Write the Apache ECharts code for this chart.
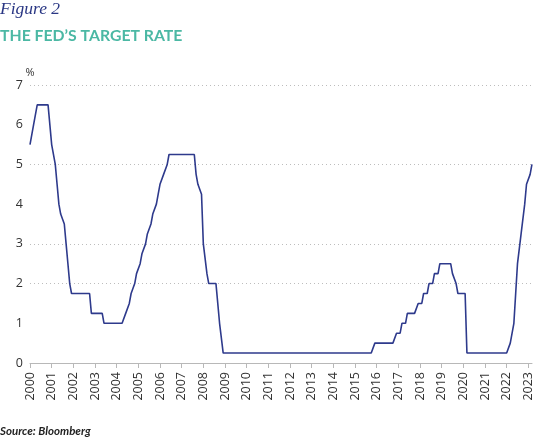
<!DOCTYPE html>
<html>
<head>
<meta charset="utf-8">
<script src="https://cdn.jsdelivr.net/npm/echarts@6/dist/echarts.min.js"></script>
<style>html,body{margin:0;padding:0;background:#fff}#c{width:538px;height:437px}</style>
</head>
<body>
<div id="c"></div>
<script>
// ---- data (monthly end-of-month Fed target rate, upper bound after 2008) ----
const startYear = 2000;
const yearTicks = [2000,2001,2002,2003,2004,2005,2006,2007,2008,2009,2010,2011,2012,2013,2014,2015,2016,2017,2018,2019,2020,2021,2022,2023];
const yTicks = [0,1,2,3,4,5,6,7];
const rates = [
  // 2000
  5.5,5.75,6,6,6.5,6.5,6.5,6.5,6.5,6.5,6.5,6.5,
  // 2001
  5.5,5.5,5,4.5,4,3.75,3.75,3.5,3,2.5,2,1.75,
  // 2002
  1.75,1.75,1.75,1.75,1.75,1.75,1.75,1.75,1.75,1.75,1.25,1.25,
  // 2003
  1.25,1.25,1.25,1.25,1.25,1,1,1,1,1,1,1,
  // 2004
  1,1,1,1,1,1.25,1.25,1.5,1.75,1.75,2,2.25,
  // 2005
  2.25,2.5,2.75,2.75,3,3.25,3.25,3.5,3.75,3.75,4,4.25,
  // 2006
  4.5,4.5,4.75,4.75,5,5.25,5.25,5.25,5.25,5.25,5.25,5.25,
  // 2007
  5.25,5.25,5.25,5.25,5.25,5.25,5.25,5.25,4.75,4.5,4.5,4.25,
  // 2008
  3,3,2.25,2,2,2,2,2,2,1,1,0.25,
  // 2009
  0.25,0.25,0.25,0.25,0.25,0.25,0.25,0.25,0.25,0.25,0.25,0.25,
  // 2010
  0.25,0.25,0.25,0.25,0.25,0.25,0.25,0.25,0.25,0.25,0.25,0.25,
  // 2011
  0.25,0.25,0.25,0.25,0.25,0.25,0.25,0.25,0.25,0.25,0.25,0.25,
  // 2012
  0.25,0.25,0.25,0.25,0.25,0.25,0.25,0.25,0.25,0.25,0.25,0.25,
  // 2013
  0.25,0.25,0.25,0.25,0.25,0.25,0.25,0.25,0.25,0.25,0.25,0.25,
  // 2014
  0.25,0.25,0.25,0.25,0.25,0.25,0.25,0.25,0.25,0.25,0.25,0.25,
  // 2015
  0.25,0.25,0.25,0.25,0.25,0.25,0.25,0.25,0.25,0.25,0.25,0.5,
  // 2016
  0.5,0.5,0.5,0.5,0.5,0.5,0.5,0.5,0.5,0.5,0.5,0.75,
  // 2017
  0.75,0.75,1,1,1,1.25,1.25,1.25,1.25,1.25,1.25,1.5,
  // 2018
  1.5,1.5,1.75,1.75,1.75,2,2,2,2.25,2.25,2.25,2.5,
  // 2019
  2.5,2.5,2.5,2.5,2.5,2.5,2.25,2.25,2,1.75,1.75,1.75,
  // 2020
  1.75,1.75,0.25,0.25,0.25,0.25,0.25,0.25,0.25,0.25,0.25,0.25,
  // 2021
  0.25,0.25,0.25,0.25,0.25,0.25,0.25,0.25,0.25,0.25,0.25,0.25,
  // 2022
  0.25,0.25,0.5,0.5,1,1.75,2.5,2.5,3.25,3.25,4,4.5,
  // 2023
  4.5,4.75,5
];

// month dates as decimal years
const seriesData = rates.map((r, i) => [startYear + i / 12, r]);

const chart = echarts.init(document.getElementById('c'), null, {renderer: 'canvas'});
chart.setOption({
  animation: false,
  backgroundColor: '#fff',
  title: [
    {text: 'Figure 2', left: 0, top: 0, padding: 0,
     textStyle: {fontFamily: 'Liberation Serif', fontStyle: 'italic', fontWeight: 'normal', fontSize: 17.5, color: '#2a3784'}},
    {text: 'THE FED\u2019S TARGET RATE', left: 0, top: 28, padding: 0,
     textStyle: {fontFamily: 'Lato', fontWeight: 'bold', fontSize: 15.8, color: '#4bb8a4'}}
  ],
  graphic: [
    {type: 'text', left: 0, top: 425,
     style: {text: 'Source: Bloomberg', font: 'italic bold 11.5px Lato', fill: '#222'}}
  ],
  grid: {left: 30, right: 6, top: 85, bottom: 74},
  xAxis: {
    type: 'value', min: 2000, max: 2023.17,
    axisLine: {show: true, lineStyle: {color: '#b8b8b8', width: 1}},
    axisTick: {show: true, customValues: yearTicks, length: 5, lineStyle: {color: '#b8b8b8'}},
    axisLabel: {customValues: yearTicks, rotate: 90, margin: 9, fontSize: 12.5, color: '#333',
                fontFamily: 'Open Sans', formatter: v => String(Math.round(v))},
    splitLine: {show: false}
  },
  yAxis: {
    type: 'value', min: 0, max: 7, interval: 1,
    name: '%', nameLocation: 'end', nameGap: 7,
    nameTextStyle: {fontFamily: 'Open Sans', fontSize: 11, color: '#333', align: 'center'},
    axisLine: {show: false}, axisTick: {show: false},
    axisLabel: {margin: 7, fontSize: 12.5, color: '#333', fontFamily: 'Open Sans'},
    splitLine: {show: true, lineStyle: {
      color: ['rgba(0,0,0,0)','rgba(0,0,0,0)','#bdbdbd','#bdbdbd','rgba(0,0,0,0)','#bdbdbd','rgba(0,0,0,0)','#bdbdbd'],
      type: [1, 3], width: 1}}
  },
  series: [{
    type: 'line', data: seriesData, showSymbol: false, silent: true,
    lineStyle: {color: '#2e3a8c', width: 1.6}
  }]
});
</script>
</body>
</html>
